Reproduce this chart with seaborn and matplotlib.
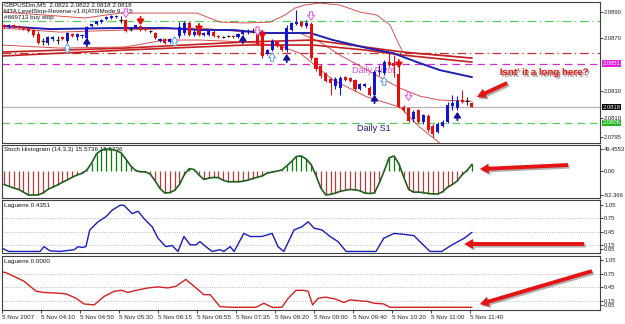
import matplotlib
matplotlib.use("Agg")
import matplotlib.pyplot as plt
import matplotlib.patheffects as pe
from matplotlib.transforms import offset_copy
import numpy as np
import pandas as pd
import seaborn as sns

# GBPUSDm M5, 5 Nov 2007
opens = [2.08801, 2.08786, 2.08801, 2.08794, 2.08786, 2.08779, 2.08764, 2.08733, 2.08680, 2.08665,
         2.08695, 2.08688, 2.08711, 2.08680, 2.08733, 2.08711, 2.08718, 2.08703, 2.08794, 2.08809,
         2.08824, 2.08847, 2.08855, 2.08862, 2.08839, 2.08839, 2.08771, 2.08786, 2.08794, 2.08779,
         2.08756, 2.08741, 2.08680, 2.08695, 2.08673, 2.08688, 2.08718, 2.08741, 2.08817, 2.08726,
         2.08756, 2.08726, 2.08726, 2.08748, 2.08718, 2.08711, 2.08718, 2.08718, 2.08711, 2.08733,
         2.08748, 2.08756, 2.08733, 2.08711, 2.08582, 2.08612, 2.08673, 2.08650, 2.08612, 2.08764,
         2.08809, 2.08824, 2.08794, 2.08809, 2.08551, 2.08491, 2.08438, 2.08392, 2.08339, 2.08324,
         2.08407, 2.08400, 2.08385, 2.08316, 2.08339, 2.08324, 2.08271, 2.08445, 2.08438, 2.08521,
         2.08513, 2.08430, 2.08180, 2.08172, 2.08089, 2.08157, 2.08066, 2.08112, 2.08036, 2.07990,
         2.08036, 2.08066, 2.08188, 2.08172, 2.08233, 2.08225, 2.08210]
highs = [2.08809, 2.08809, 2.08809, 2.08801, 2.08794, 2.08786, 2.08771, 2.08756, 2.08703, 2.08718,
         2.08718, 2.08718, 2.08718, 2.08748, 2.08741, 2.08741, 2.08733, 2.08794, 2.08809, 2.08832,
         2.08847, 2.08870, 2.08877, 2.08877, 2.08870, 2.08847, 2.08779, 2.08801, 2.08801, 2.08786,
         2.08764, 2.08748, 2.08703, 2.08703, 2.08703, 2.08711, 2.08824, 2.08832, 2.08832, 2.08764,
         2.08764, 2.08748, 2.08764, 2.08764, 2.08726, 2.08718, 2.08726, 2.08726, 2.08741, 2.08764,
         2.08771, 2.08779, 2.08748, 2.08741, 2.08620, 2.08695, 2.08680, 2.08658, 2.08801, 2.08824,
         2.08915, 2.08832, 2.08839, 2.08824, 2.08559, 2.08506, 2.08445, 2.08407, 2.08407, 2.08415,
         2.08415, 2.08407, 2.08392, 2.08362, 2.08362, 2.08339, 2.08460, 2.08498, 2.08536, 2.08589,
         2.08574, 2.08491, 2.08195, 2.08180, 2.08157, 2.08165, 2.08127, 2.08127, 2.08051, 2.08066,
         2.08081, 2.08218, 2.08271, 2.08263, 2.08309, 2.08256, 2.08218]
lows = [2.08779, 2.08779, 2.08779, 2.08771, 2.08764, 2.08748, 2.08711, 2.08658, 2.08650, 2.08650,
        2.08680, 2.08658, 2.08688, 2.08665, 2.08711, 2.08688, 2.08703, 2.08688, 2.08786, 2.08801,
        2.08817, 2.08839, 2.08847, 2.08855, 2.08817, 2.08748, 2.08756, 2.08779, 2.08756, 2.08756,
        2.08741, 2.08695, 2.08673, 2.08658, 2.08665, 2.08680, 2.08703, 2.08726, 2.08718, 2.08718,
        2.08718, 2.08718, 2.08718, 2.08711, 2.08703, 2.08703, 2.08711, 2.08703, 2.08703, 2.08726,
        2.08733, 2.08741, 2.08650, 2.08551, 2.08574, 2.08604, 2.08635, 2.08604, 2.08597, 2.08756,
        2.08801, 2.08786, 2.08779, 2.08536, 2.08453, 2.08400, 2.08369, 2.08271, 2.08316, 2.08271,
        2.08377, 2.08369, 2.08301, 2.08309, 2.08332, 2.08263, 2.08263, 2.08422, 2.08422, 2.08483,
        2.08407, 2.08172, 2.08142, 2.08066, 2.08066, 2.08059, 2.08051, 2.07990, 2.07953, 2.07983,
        2.08028, 2.08059, 2.08157, 2.08157, 2.08210, 2.08195, 2.08180]
closes = [2.08786, 2.08801, 2.08786, 2.08779, 2.08771, 2.08756, 2.08726, 2.08665, 2.08680, 2.08711,
          2.08711, 2.08688, 2.08695, 2.08741, 2.08718, 2.08733, 2.08726, 2.08786, 2.08809, 2.08832,
          2.08839, 2.08862, 2.08870, 2.08870, 2.08839, 2.08756, 2.08771, 2.08801, 2.08764, 2.08764,
          2.08756, 2.08703, 2.08695, 2.08665, 2.08695, 2.08703, 2.08786, 2.08817, 2.08726, 2.08748,
          2.08726, 2.08741, 2.08756, 2.08718, 2.08711, 2.08711, 2.08718, 2.08711, 2.08733, 2.08756,
          2.08756, 2.08756, 2.08658, 2.08567, 2.08612, 2.08680, 2.08642, 2.08612, 2.08779, 2.08817,
          2.08824, 2.08794, 2.08817, 2.08551, 2.08468, 2.08415, 2.08377, 2.08362, 2.08392, 2.08400,
          2.08385, 2.08377, 2.08316, 2.08354, 2.08354, 2.08271, 2.08445, 2.08453, 2.08521, 2.08498,
          2.08491, 2.08180, 2.08157, 2.08074, 2.08142, 2.08066, 2.08119, 2.08006, 2.07975, 2.08051,
          2.08066, 2.08195, 2.08210, 2.08225, 2.08218, 2.08225, 2.08180]

# moving averages / bollinger (vertices at bar positions)
blue_ma_bar = [-0.4, 9.4, 23.2, 33.4, 40.2, 47.0, 53.9, 60.7, 62.8, 67.5, 74.5, 79.8, 84.7, 89.4, 96.0]
blue_ma = [2.08794, 2.08771, 2.08779, 2.08779, 2.08764, 2.08764, 2.08741, 2.08741, 2.08741,
           2.08688, 2.08627, 2.08589, 2.08521, 2.08460, 2.08407]
red_ma_bar = [-0.4, 24.8, 49.4, 63.4, 74.1, 81.8, 96.0]
red_ma_fast = [2.08597, 2.08627, 2.08673, 2.08688, 2.08635, 2.08597, 2.08551]
red_ma_slow = [2.08567, 2.08612, 2.08650, 2.08650, 2.08612, 2.08574, 2.08521]
bb_up_bar = [-0.4, 8.4, 16.6, 23.8, 31.0, 39.6, 44.3, 49.4, 54.6, 57.6, 59.7, 61.7, 64.8, 68.9,
             73.0, 76.5, 79.2, 80.6, 81.8, 85.3, 89.4, 96.0]
bb_upper = [2.08900, 2.08877, 2.08855, 2.08892, 2.08892, 2.08892, 2.08824, 2.08817, 2.08824, 2.08877,
            2.08930, 2.08953, 2.08968, 2.08953, 2.08900, 2.08877, 2.08801, 2.08688, 2.08597, 2.08582,
            2.08574, 2.08551]
bb_mid_bar = [-0.4, 11.5, 24.8, 40.2, 49.4, 60.7, 64.8, 68.9, 74.5, 81.2, 85.3, 89.4, 96.0]
bb_mid = [2.08779, 2.08748, 2.08764, 2.08779, 2.08748, 2.08741, 2.08673, 2.08574, 2.08460,
          2.08324, 2.08263, 2.08233, 2.08225]
bb_low_bar = [-0.4, 11.5, 24.8, 33.0, 40.2, 49.4, 56.6, 60.7, 67.5, 74.5, 81.2, 85.3, 89.4]
bb_lower = [2.08650, 2.08627, 2.08635, 2.08688, 2.08688, 2.08673, 2.08642, 2.08589, 2.08385,
            2.08256, 2.08180, 2.08028, 2.07907]

# pivot levels: R1, ?, pivot, last price, S1
levels = [2.0883, 2.0859, 2.0851, 2.0818, 2.0806]

# signal arrows (centre price of each arrow)
buy_bars = [17, 49, 58, 76, 93]
buy_px = [2.08673, 2.08695, 2.08551, 2.08241, 2.08112]
sell_bars = [28, 40, 53, 81]
sell_px = [2.08832, 2.08779, 2.08726, 2.08506]
hup_bars = [13, 35, 55, 78]
hup_px = [2.08627, 2.08680, 2.08559, 2.08377]
hdn_bars = [25, 52, 63, 83]
hdn_px = [2.08892, 2.08756, 2.08870, 2.08263]

stoch = [-29, -33, -37, -40, -46, -52.4, -52.4, -52, -48, -40,
         -35, -30, -24, -19, -13, -8, -4.5, 3, 19, 39,
         47, 49.46, 49, 46, 41, 27, 12, 2, -1, -1,
         -6, -21, -38, -48, -47, -42, -29, -7, 6, 4,
         -8, -18, -15, -13.5, -14, -20, -23, -23, -23, -22,
         -19.5, -16, -13, -10, -4, -1.5, 0.5, 3, 12, 22,
         33, 34, 27, 15, -9, -37, -52, -51, -48, -44,
         -42, -40, -41, -43, -48, -49, -48, -25, 1, 30,
         34, 17, -13, -40, -46, -46, -47, -49, -50, -50,
         -45, -35, -29, -21, -7, 2, 15.57]

lag1_bar = [-0.4, 1, 7.4, 8.2, 9.4, 11.5, 14.4, 15.2, 16, 16.8, 17.6, 19.3, 20.9, 22.2, 23.8,
            24.6, 26.3, 27.5, 28.7, 30.4, 31.6, 33.2, 34.5, 35.7, 36.9, 38.2, 39.4, 40.2, 41.4,
            42.7, 44.3, 45.1, 46.4, 47.2, 49.2, 50.5, 52.9, 55, 56.2, 57.4, 59.5, 61.1, 62.4,
            63.6, 65.2, 66.9, 68.5, 70.2, 76.3, 77.9, 80, 82, 84.1, 85.3, 87.4, 89.8, 91.9, 94.4, 96]
lag1 = [0.075, 0, 0, 0.11, 0.015, 0, 0.04, 0.11, 0.09, 0.11, 0.49, 0.675, 0.79, 0.94, 1.05,
        1.05, 0.86, 0.915, 0.75, 0.56, 0.30, 0.11, 0.135, 0, 0.34, 0.15, 0.15, 0.225, 0.11,
        0, 0.04, 0, 0.11, 0, 0.41, 0.34, 0.34, 0.41, 0.11, 0, 0.49, 0.56, 0.675,
        0.53, 0.49, 0.34, 0.225, 0, 0, 0.30, 0.41, 0.39, 0.36, 0.225, 0, 0, 0.15, 0.30, 0.435]
lag2_bar = [-0.4, 0.4, 1.6, 4.1, 6.6, 8.2, 10.7, 12.7, 14.8, 16.4, 18.5, 20.5, 22.6, 24.2, 25.4,
            27.1, 29.5, 31.6, 33.6, 35.3, 37.3, 39.4, 41.0, 42.3, 44.3, 46.8, 51.7, 53.3, 55.0,
            57.0, 58.3, 59.9, 61.5, 62.4, 63.3, 64.4, 66.0, 68.1, 69.7, 71.0, 73.0, 74.7, 75.9,
            77.9, 79.2, 96]
lag2 = [0.785, 0.77, 0.71, 0.58, 0.355, 0.33, 0.317, 0.30, 0.20, 0.075, 0.053, 0.24, 0.355, 0.377,
        0.33, 0.377, 0.43, 0.453, 0.43, 0.468, 0.62, 0.43, 0.28, 0.28, 0.015, 0, 0, 0.09, 0,
        0, 0.20, 0.377, 0.377, 0.355, 0.053, 0.20, 0.227, 0.18, 0.106, 0.166, 0.143, 0.128, 0.09,
        0.075, 0, 0]

time_labels = ["5 Nov 2007", "5 Nov 04:10", "5 Nov 04:50", "5 Nov 05:30", "5 Nov 06:15",
               "5 Nov 06:55", "5 Nov 07:35", "5 Nov 08:20", "5 Nov 09:00", "5 Nov 09:40",
               "5 Nov 10:20", "5 Nov 11:00", "5 Nov 11:40"]

sns.set_style("white")
plt.rcParams['font.family'] = ['Liberation Sans', 'DejaVu Sans']

fig = plt.figure(figsize=(6.25, 3.24), dpi=100)
left, width = 2 / 625, 598 / 625
ax = fig.add_axes([left, 181 / 324, width, 141 / 324])
ax_st = fig.add_axes([left, 126 / 324, width, 53 / 324])
ax_l1 = fig.add_axes([left, 71 / 324, width, 53 / 324])
ax_l2 = fig.add_axes([left, 14 / 324, width, 54 / 324])

# ---- main price panel ----
lv_col = ['#55cc55', '#c03030', '#d030d0', '#b4b4b4', '#55cc55']
lv_ls = [(0, (7, 3, 1, 3)), (0, (7, 3, 1, 3)), (0, (6, 4)), '-', (0, (6, 4))]
for v, c, s in zip(levels, lv_col, lv_ls):
    ax.axhline(v, color=c, ls=s, lw=0.9, zorder=1)

sns.lineplot(x=bb_up_bar, y=bb_upper, ax=ax, color='#d85050', lw=0.7, estimator=None, sort=False)
sns.lineplot(x=bb_mid_bar, y=bb_mid, ax=ax, color='#d85050', lw=0.7, estimator=None, sort=False)
sns.lineplot(x=bb_low_bar, y=bb_lower, ax=ax, color='#d85050', lw=0.7, estimator=None, sort=False)
sns.lineplot(x=red_ma_bar, y=red_ma_fast, ax=ax, color='#c42020', lw=1.2, estimator=None, sort=False)
sns.lineplot(x=red_ma_bar, y=red_ma_slow, ax=ax, color='#c42020', lw=1.2, estimator=None, sort=False)
sns.lineplot(x=blue_ma_bar, y=blue_ma, ax=ax, color='#2020b0', lw=1.4, estimator=None, sort=False)

df = pd.DataFrame({'open': opens, 'high': highs, 'low': lows, 'close': closes})
df['bar'] = np.arange(len(df))
df['kind'] = np.where(df.close > df.open, 'up', np.where(df.close < df.open, 'down', 'flat'))
pal = {'up': '#1414d2', 'down': '#e41010', 'flat': '#202020'}
ax.vlines(df.bar, df.low, df.high, colors=df.kind.map(pal), lw=0.8, zorder=3)
body = df[df.kind != 'flat']
ax.bar(body.bar, (body.close - body.open).abs(), bottom=body[['open', 'close']].min(axis=1),
       width=0.62, color=body.kind.map(pal), lw=0, zorder=4)
flat = df[df.kind == 'flat']
ax.hlines(flat.close, flat.bar - 0.35, flat.bar + 0.35, colors=pal['flat'], lw=0.8, zorder=4)

# signal arrows, drawn as small arrows centred on the signal price
up_end = offset_copy(ax.transData, fig=fig, x=0, y=3, units='points')
dn_end = offset_copy(ax.transData, fig=fig, x=0, y=-3, units='points')


def signal(b, p, up, style):
    head, tail = (up_end, dn_end) if up else (dn_end, up_end)
    ax.annotate('', xy=(b, p), xycoords=head, xytext=(b, p), textcoords=tail,
                arrowprops=dict(shrinkA=0, shrinkB=0, **style), zorder=5)


solid_up = dict(arrowstyle='-|>,head_width=0.2,head_length=0.3', color='#12129a', lw=1.3,
                mutation_scale=10)
solid_dn = dict(arrowstyle='-|>,head_width=0.2,head_length=0.3', color='#e01010', lw=1.3,
                mutation_scale=10)
hollow_up = dict(arrowstyle='simple,head_width=0.5,head_length=0.35,tail_width=0.22',
                 fc='white', ec='#6aa6e6', lw=0.8, mutation_scale=10)
hollow_dn = dict(arrowstyle='simple,head_width=0.5,head_length=0.35,tail_width=0.22',
                 fc='white', ec='#e060e0', lw=0.8, mutation_scale=10)
for b, p in zip(buy_bars, buy_px):
    signal(b, p, True, solid_up)
for b, p in zip(sell_bars, sell_px):
    signal(b, p, False, solid_dn)
for b, p in zip(hup_bars, hup_px):
    signal(b, p, True, hollow_up)
for b, p in zip(hdn_bars, hdn_px):
    signal(b, p, False, hollow_dn)

ax.text(0.004, 0.995, 'GBPUSDm,M5  2.0821 2.0822 2.0818 2.0818', transform=ax.transAxes,
        fontsize=4.5, va='top', color='#111111', zorder=2)
ax.text(0.004, 0.952, 'MTA LevelStop-Reverse-v1.0(ATRMode 9, 1.5', transform=ax.transAxes,
        fontsize=4.5, va='top', color='#111111', zorder=2)
ax.text(0.004, 0.909, '#669713 buy stop', transform=ax.transAxes,
        fontsize=4.5, va='top', color='#111111', zorder=2)
ax.text(71.4, 2.08460, 'Daily Pivot', color='#d050d0', fontsize=6.5, va='center', zorder=2)
ax.text(72.4, 2.08021, 'Daily S1', color='#1c1c7a', fontsize=6.5, va='center', zorder=2)
ax.text(101.7, 2.08445, "Isnt' it a long here?", color='#e81414', fontsize=7.0, fontweight='bold',
        va='center', zorder=6,
        path_effects=[pe.withSimplePatchShadow(offset=(1.2, -1.2), shadow_rgbFace='#555555', alpha=0.6)])

ax.set_ylim(2.07908, 2.08976)
ax.set_yticks([2.0890, 2.0870, 2.0830, 2.0810, 2.0795])
ax.set_yticklabels(['2.0890', '2.0870', '2.0830', '2.0810', '2.0795'])
for v, c in zip([2.0851, 2.0818, 2.0806], ['#e020e0', '#000000', '#22b422']):
    ax.text(1.004, v, f'{v:.4f}', transform=ax.get_yaxis_transform(), fontsize=4.2, color='white',
            va='center', ha='left', bbox=dict(boxstyle='square,pad=0.15', fc=c, ec='none'))

# ---- stoch histogram ----
bars = np.arange(len(stoch))
st = np.array(stoch)
ax_st.vlines(bars, 0, st, colors=np.where(st >= 0, '#0a7a0a', '#b83a3a'), lw=0.9)
sns.lineplot(x=bars, y=st, ax=ax_st, color='#1d5e1d', lw=1.2)
ax_st.set_ylim(-59.0, 58.3)
ax_st.set_yticks([49.4553, 0.0, -52.366])
ax_st.set_yticklabels(['49.4553', '0.00', '-52.366'])
ax_st.text(0.004, 0.96, 'Stoch Histogram (14,3,3) 15.5736 15.5736', transform=ax_st.transAxes,
           fontsize=4.5, va='top', color='#111111', zorder=0)

# ---- laguerre panels ----
sns.lineplot(x=lag1_bar, y=lag1, ax=ax_l1, color='#1a1ac0', lw=1.0, estimator=None, sort=False)
sns.lineplot(x=lag2_bar, y=lag2, ax=ax_l2, color='#d42020', lw=1.0, estimator=None, sort=False)
ax_l1.set_ylim(-0.035, 1.17)
ax_l2.set_ylim(-0.06, 1.14)
for a, name in [(ax_l1, 'Laguerre 0.4351'), (ax_l2, 'Laguerre 0.0000')]:
    for g in [0.75, 0.45, 0.15]:
        a.axhline(g, color='#a8a8a8', ls=':', lw=0.6, zorder=0)
    a.set_yticks([1.05, 0.75, 0.45, 0.15, 0.05])
    a.set_yticklabels(['1.05', '0.75', '0.45', '0.15', '0.05'])
    a.text(0.004, 0.95, name, transform=a.transAxes, fontsize=4.5, va='top', color='#111111')

# big red pointer arrows
pointer = [(ax, (103.2, 2.08362), (97.0, 2.08256)),
           (ax_st, (115.7, 14), (97.6, 5)),
           (ax_l1, (119.0, 0.17), (94.4, 0.17)),
           (ax_l2, (120.6, 0.805), (97.6, 0.07))]
for a, tail, head in pointer:
    a.annotate('', xy=head, xytext=tail, zorder=7,
               arrowprops=dict(arrowstyle='simple,head_length=0.8,head_width=0.9,tail_width=0.35',
                               mutation_scale=8, fc='#e41414', ec='none', shrinkA=0, shrinkB=0,
                               path_effects=[pe.withSimplePatchShadow(offset=(1.2, -1.2),
                                                                      shadow_rgbFace='#666666',
                                                                      alpha=0.5)]))

for a in (ax, ax_st, ax_l1, ax_l2):
    a.set_xlim(-0.41, 122.26)
    a.set_xlabel('')
    a.set_ylabel('')
    a.yaxis.tick_right()
    a.tick_params(axis='y', labelsize=4.2, length=2, width=0.6, pad=1.0, colors='#222222')
    a.tick_params(axis='x', bottom=False, labelbottom=False)
    for s in a.spines.values():
        s.set_color('#404040')
        s.set_linewidth(0.8)

ax_l2.set_xticks(np.arange(len(time_labels)) * 8 - 0.4)
ax_l2.set_xticklabels(time_labels, fontsize=4.5, ha='left')
ax_l2.tick_params(axis='x', bottom=True, labelbottom=True, length=2, width=0.6, pad=1.5,
                  colors='#222222')

fig.savefig('out.png', dpi=100, facecolor='white')
